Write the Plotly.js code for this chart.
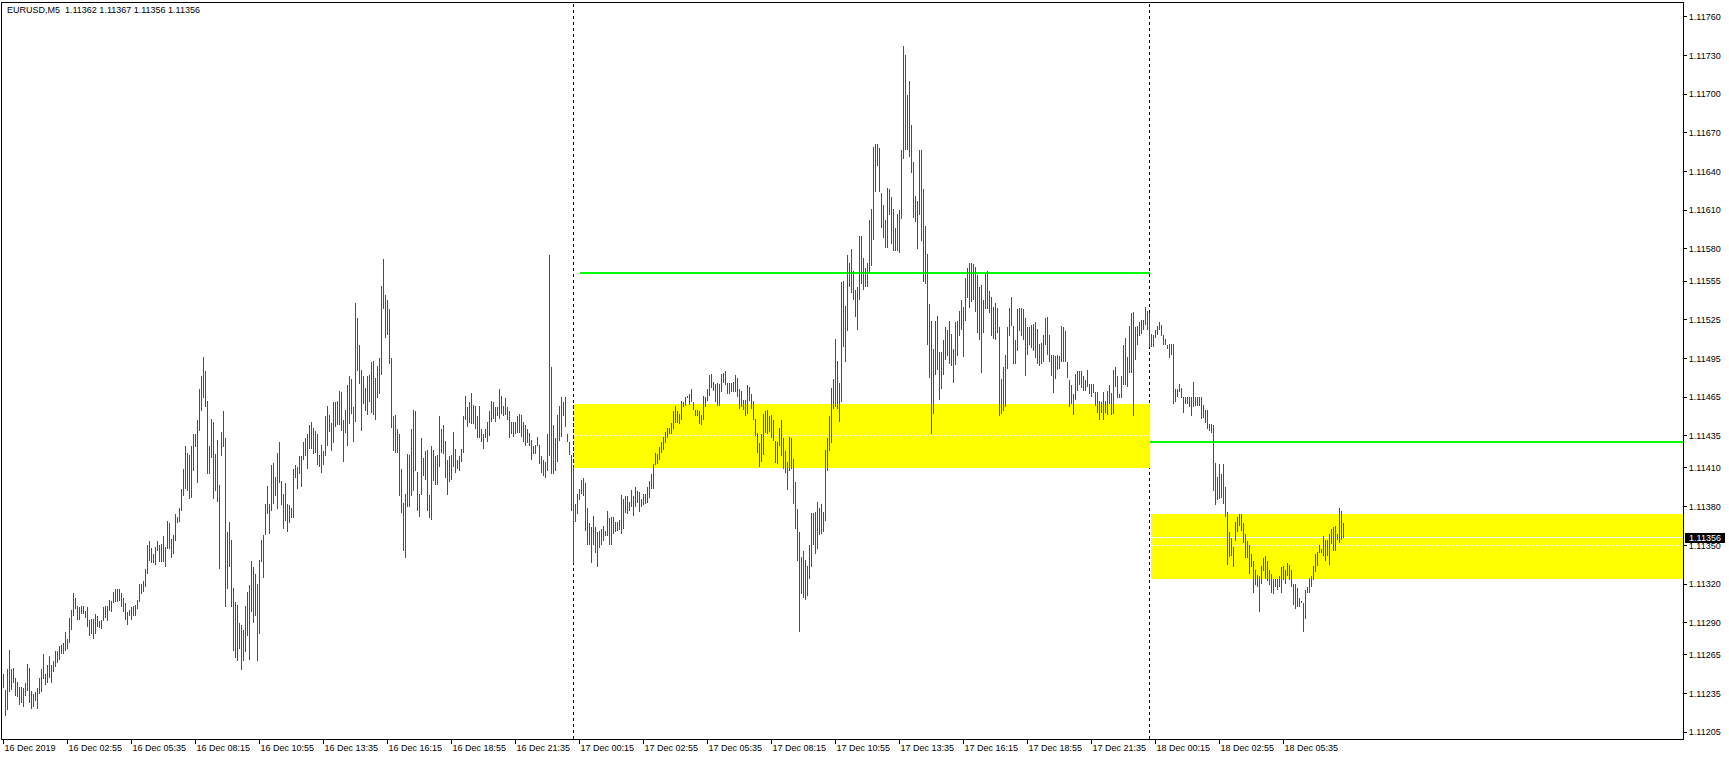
<!DOCTYPE html>
<html><head><meta charset="utf-8">
<script src="https://cdn.plot.ly/plotly-3.0.1.min.js"></script>
<style>html,body{margin:0;padding:0;background:#fff;overflow:hidden}#chart{width:1729px;height:760px}
#chart .scatterlayer path{shape-rendering:crispEdges}
#chart .shapelayer path{shape-rendering:crispEdges}
</style>
</head><body><div id="chart"></div>
<script>
const symbolTitle = "EURUSD,M5";
const lastOHLC = [1.11362, 1.11367, 1.11356, 1.11356];
const tickIndex = [0,32,64,96,128,160,192,224,256,288,320,352,384,416,448,480,512,544,576,608,640];
const tickText = ["16 Dec 2019","16 Dec 02:55","16 Dec 05:35","16 Dec 08:15","16 Dec 10:55","16 Dec 13:35","16 Dec 16:15","16 Dec 18:55","16 Dec 21:35",
 "17 Dec 00:15","17 Dec 02:55","17 Dec 05:35","17 Dec 08:15","17 Dec 10:55","17 Dec 13:35","17 Dec 16:15","17 Dec 18:55","17 Dec 21:35",
 "18 Dec 00:15","18 Dec 02:55","18 Dec 05:35"];
const priceTicks = [1.11760,1.11730,1.11700,1.11670,1.11640,1.11610,1.11580,1.11555,1.11525,1.11495,1.11465,1.11435,1.11410,1.11380,1.11350,1.11320,1.11290,1.11265,1.11235,1.11205];
const separatorIndex = [285, 573];
const zoneStart = [285, 573.75];
const zoneEnd = [573, 839.75];
const zoneTop = [1.11460, 1.11374];
const zoneBottom = [1.11410, 1.11324];
const zoneMid = [1.11435, 1.11350];
const greenLevel = [1.11561, 1.11430];
const greenStart = [288, 573];
const greenEnd = [573, 839.75];

const high = [
1.11250,1.11238,1.11254,1.11269,1.11254,1.11255,1.11247,1.11244,1.11240,1.11240,1.11239,1.11243,1.11258,1.11255,1.11237,1.11235,1.11236,1.11239,1.11247,1.11254,
1.11266,1.11250,1.11257,1.11264,1.11257,1.11260,1.11268,1.11268,1.11272,1.11273,1.11274,1.11283,1.11277,1.11294,1.11300,1.11313,1.11309,1.11303,1.11302,1.11303,
1.11303,1.11299,1.11302,1.11292,1.11293,1.11293,1.11297,1.11295,1.11291,1.11292,1.11302,1.11303,1.11303,1.11308,1.11307,1.11314,1.11316,1.11316,1.11316,1.11313,
1.11309,1.11305,1.11298,1.11300,1.11302,1.11303,1.11304,1.11308,1.11320,1.11320,1.11322,1.11332,1.11350,1.11353,1.11348,1.11343,1.11349,1.11353,1.11350,1.11351,
1.11357,1.11349,1.11369,1.11367,1.11355,1.11358,1.11374,1.11372,1.11379,1.11394,1.11409,1.11427,1.11422,1.11420,1.11427,1.11436,1.11436,1.11447,1.11471,1.11481,
1.11496,1.11485,1.11462,1.11427,1.11448,1.11446,1.11421,1.11432,1.11397,1.11438,1.11454,1.11433,1.11360,1.11368,1.11354,1.11317,1.11306,1.11304,1.11290,1.11288,
1.11284,1.11303,1.11314,1.11319,1.11338,1.11333,1.11328,1.11320,1.11339,1.11354,1.11358,1.11382,1.11396,1.11382,1.11412,1.11414,1.11403,1.11422,1.11430,1.11400,
1.11390,1.11398,1.11382,1.11381,1.11379,1.11409,1.11412,1.11411,1.11419,1.11419,1.11430,1.11433,1.11436,1.11443,1.11446,1.11441,1.11439,1.11436,1.11420,1.11428,
1.11423,1.11450,1.11458,1.11451,1.11445,1.11461,1.11461,1.11462,1.11470,
1.11469,1.11447,1.11455,1.11474,1.11481,1.11479,1.11457,1.11538,1.11526,1.11505,1.11486,1.11481,1.11472,1.11481,1.11482,1.11492,1.11493,1.11480,1.11489,1.11495,
1.11551,1.11572,1.11544,1.11540,1.11533,1.11495,1.11450,1.11451,1.11440,1.11436,1.11409,1.11383,1.11390,1.11421,1.11420,1.11440,1.11455,1.11454,1.11407,1.11390,
1.11433,1.11418,1.11423,1.11424,1.11389,1.11427,1.11424,1.11419,1.11420,1.11450,1.11440,1.11443,1.11431,1.11416,1.11419,1.11420,1.11438,1.11425,1.11416,1.11419,
1.11425,1.11450,1.11466,1.11457,1.11461,1.11468,1.11459,1.11458,1.11450,1.11458,1.11440,1.11436,1.11440,1.11446,1.11454,1.11462,1.11461,1.11457,1.11457,1.11471,
1.11466,1.11458,1.11464,1.11457,1.11454,1.11446,1.11446,1.11446,1.11450,1.11452,1.11451,1.11446,1.11443,1.11440,1.11437,1.11432,1.11427,1.11428,1.11434,1.11428,
1.11419,1.11416,1.11415,1.11436,1.11575,1.11488,1.11443,1.11433,1.11451,1.11458,1.11465,1.11461,1.11465,1.11436,1.11430,1.11420,1.11411,1.11382,1.11390,1.11394,
1.11401,1.11402,1.11398,1.11379,1.11367,1.11364,1.11373,1.11364,1.11360,1.11361,1.11363,1.11365,1.11361,1.11377,1.11371,1.11372,1.11372,1.11368,1.11368,1.11370,
1.11389,1.11386,1.11388,1.11388,1.11384,1.11393,1.11388,1.11395,1.11392,1.11391,1.11386,1.11390,1.11390,1.11395,1.11400,1.11405,1.11413,1.11422,1.11421,1.11426,
1.11430,1.11434,1.11438,1.11441,1.11441,1.11445,1.11454,1.11458,1.11454,1.11452,
1.11462,1.11461,1.11465,1.11466,1.11467,1.11471,1.11461,1.11455,1.11455,1.11454,1.11451,1.11466,1.11465,1.11471,1.11482,1.11483,1.11477,1.11475,1.11476,1.11475,
1.11483,1.11484,1.11485,1.11476,1.11476,1.11476,1.11477,1.11482,1.11480,1.11471,1.11470,1.11463,1.11463,1.11474,1.11473,1.11467,1.11462,1.11448,1.11437,1.11429,
1.11436,1.11452,1.11454,1.11455,1.11450,1.11451,1.11447,1.11431,1.11430,1.11441,1.11447,1.11433,1.11423,1.11415,1.11434,1.11433,1.11417,1.11399,1.11378,1.11360,
1.11341,1.11346,1.11339,1.11334,1.11350,1.11375,1.11375,1.11376,1.11384,1.11379,1.11382,1.11376,1.11424,1.11433,1.11450,1.11472,1.11479,1.11510,1.11493,1.11476,
1.11554,1.11555,1.11536,1.11575,1.11569,1.11580,1.11563,1.11548,1.11550,1.11590,1.11590,1.11573,1.11565,1.11569,1.11602,1.11611,1.11659,1.11661,1.11661,1.11658,
1.11623,1.11614,1.11602,1.11627,1.11626,1.11620,1.11611,1.11596,1.11607,1.11610,1.11657,1.11737,1.11730,1.11699,1.11710,1.11676,1.11647,1.11621,1.11617,1.11657,
1.11657,1.11626,1.11598,1.11576,1.11537,1.11524,1.11502,1.11524,1.11528,1.11500,1.11500,1.11509,1.11519,1.11517,1.11524,1.11514,1.11502,1.11523,1.11524,1.11532,
1.11540,1.11535,1.11557,1.11565,1.11569,1.11569,1.11568,1.11566,1.11560,1.11550,1.11552,1.11540,1.11561,1.11563,1.11547,1.11543,1.11535,1.11538,1.11534,1.11519,
1.11479,1.11488,1.11498,1.11519,1.11534,
1.11543,1.11520,1.11509,1.11533,1.11534,1.11534,1.11533,1.11526,1.11519,1.11519,1.11521,1.11522,1.11523,1.11518,1.11506,1.11507,1.11513,1.11526,1.11527,1.11513,
1.11498,1.11498,1.11497,1.11498,1.11497,1.11520,1.11519,1.11516,1.11492,1.11478,1.11474,1.11467,1.11483,1.11485,1.11485,1.11485,1.11481,1.11478,1.11486,1.11475,
1.11475,1.11475,1.11469,1.11469,1.11462,1.11461,1.11469,1.11462,1.11470,1.11474,1.11468,1.11486,1.11488,1.11481,1.11467,1.11481,1.11505,1.11511,1.11496,1.11520,
1.11530,1.11531,1.11519,1.11520,1.11523,1.11525,1.11525,1.11535,1.11532,1.11530,1.11514,1.11513,1.11517,1.11520,1.11523,1.11521,1.11513,1.11510,1.11505,1.11506,
1.11506,1.11506,1.11471,1.11471,1.11475,1.11472,1.11465,1.11465,1.11465,1.11465,1.11465,1.11477,1.11465,1.11465,1.11465,1.11465,1.11459,1.11455,1.11455,1.11444,
1.11444,1.11443,1.11414,1.11403,1.11413,1.11405,1.11413,1.11395,1.11376,1.11360,1.11356,1.11349,1.11368,1.11372,1.11374,1.11374,1.11367,1.11359,1.11353,1.11350,
1.11343,1.11338,1.11331,1.11327,1.11326,1.11334,1.11340,1.11342,1.11338,1.11331,1.11328,1.11324,1.11324,1.11324,1.11326,1.11333,1.11334,1.11331,1.11336,1.11335,
1.11331,1.11320,1.11320,1.11317,1.11309,1.11307,1.11305,1.11315,1.11318,1.11325,1.11326,1.11334,1.11343,1.11345,1.11350,1.11347,1.11357,1.11354,1.11354,1.11359,
1.11363,1.11364,1.11365,1.11359,1.11379,1.11377,1.11367
];

const low = [
1.11239,1.11218,1.11222,1.11236,1.11238,1.11243,1.11233,1.11232,1.11226,1.11228,1.11225,1.11233,1.11237,1.11228,1.11223,1.11225,1.11229,1.11223,1.11235,1.11236,
1.11246,1.11242,1.11243,1.11247,1.11243,1.11252,1.11256,1.11259,1.11261,1.11266,1.11266,1.11268,1.11270,1.11274,1.11284,1.11295,1.11301,1.11292,1.11292,1.11297,
1.11297,1.11294,1.11287,1.11280,1.11281,1.11277,1.11281,1.11287,1.11286,1.11285,1.11291,1.11294,1.11291,1.11299,1.11298,1.11305,1.11306,1.11306,1.11307,1.11302,
1.11298,1.11292,1.11288,1.11295,1.11292,1.11295,1.11295,1.11301,1.11306,1.11312,1.11314,1.11318,1.11328,1.11338,1.11336,1.11336,1.11335,1.11346,1.11337,1.11337,
1.11337,1.11333,1.11347,1.11347,1.11340,1.11343,1.11353,1.11367,1.11368,1.11377,1.11388,1.11394,1.11392,1.11386,1.11387,1.11408,1.11426,1.11398,1.11439,1.11454,
1.11464,1.11457,1.11405,1.11405,1.11418,1.11386,1.11392,1.11384,1.11332,1.11419,1.11426,1.11302,1.11316,1.11333,1.11302,1.11268,1.11263,1.11260,1.11270,1.11253,
1.11260,1.11267,1.11280,1.11261,1.11298,1.11290,1.11295,1.11260,1.11281,1.11337,1.11325,1.11358,1.11374,1.11359,1.11377,1.11382,1.11388,1.11378,1.11398,1.11381,
1.11363,1.11369,1.11360,1.11367,1.11371,1.11371,1.11402,1.11394,1.11405,1.11395,1.11416,1.11419,1.11409,1.11425,1.11425,1.11421,1.11422,1.11412,1.11411,1.11406,
1.11412,1.11419,1.11427,1.11438,1.11423,1.11429,1.11442,1.11443,1.11443,
1.11439,1.11415,1.11437,1.11427,1.11444,1.11452,1.11430,1.11446,1.11485,1.11475,1.11439,1.11460,1.11454,1.11451,1.11461,1.11453,1.11451,1.11447,1.11464,1.11467,
1.11482,1.11533,1.11511,1.11513,1.11491,1.11441,1.11423,1.11422,1.11422,1.11388,1.11375,1.11346,1.11340,1.11380,1.11380,1.11388,1.11392,1.11408,1.11377,1.11372,
1.11389,1.11404,1.11401,1.11377,1.11371,1.11370,1.11400,1.11397,1.11397,1.11411,1.11422,1.11421,1.11402,1.11389,1.11399,1.11401,1.11411,1.11406,1.11409,1.11408,
1.11415,1.11422,1.11447,1.11442,1.11445,1.11444,1.11444,1.11440,1.11433,1.11433,1.11430,1.11425,1.11433,1.11430,1.11435,1.11446,1.11448,1.11446,1.11450,1.11448,
1.11452,1.11450,1.11451,1.11447,1.11433,1.11436,1.11434,1.11436,1.11437,1.11437,1.11434,1.11430,1.11427,1.11429,1.11427,1.11416,1.11421,1.11421,1.11427,1.11413,
1.11406,1.11404,1.11402,1.11408,1.11419,1.11405,1.11405,1.11408,1.11415,1.11431,1.11434,1.11450,1.11442,1.11430,1.11420,1.11377,1.11336,1.11368,1.11374,1.11385,
1.11390,1.11388,1.11361,1.11350,1.11350,1.11336,1.11350,1.11344,1.11333,1.11348,1.11350,1.11353,1.11357,1.11357,1.11350,1.11350,1.11359,1.11360,1.11361,1.11362,
1.11359,1.11363,1.11375,1.11374,1.11377,1.11380,1.11373,1.11380,1.11383,1.11376,1.11380,1.11381,1.11382,1.11383,1.11387,1.11394,1.11394,1.11412,1.11413,1.11416,
1.11422,1.11424,1.11429,1.11433,1.11436,1.11436,1.11440,1.11445,1.11445,1.11444,
1.11447,1.11457,1.11458,1.11464,1.11459,1.11461,1.11455,1.11450,1.11450,1.11444,1.11443,1.11447,1.11457,1.11462,1.11466,1.11472,1.11470,1.11461,1.11458,1.11458,
1.11469,1.11476,1.11474,1.11467,1.11467,1.11469,1.11469,1.11469,1.11465,1.11456,1.11457,1.11455,1.11450,1.11452,1.11462,1.11456,1.11447,1.11435,1.11422,1.11411,
1.11415,1.11420,1.11437,1.11436,1.11438,1.11433,1.11431,1.11414,1.11413,1.11427,1.11419,1.11409,1.11406,1.11393,1.11408,1.11409,1.11382,1.11363,1.11338,1.11283,
1.11312,1.11309,1.11308,1.11311,1.11324,1.11333,1.11350,1.11343,1.11347,1.11358,1.11359,1.11360,1.11369,1.11408,1.11423,1.11429,1.11456,1.11457,1.11456,1.11446,
1.11461,1.11504,1.11492,1.11516,1.11550,1.11546,1.11540,1.11527,1.11517,1.11540,1.11553,1.11548,1.11550,1.11550,1.11561,1.11567,1.11587,1.11624,1.11644,1.11624,
1.11596,1.11588,1.11581,1.11581,1.11606,1.11584,1.11578,1.11578,1.11578,1.11577,1.11603,1.11650,1.11657,1.11657,1.11651,1.11639,1.11604,1.11601,1.11580,1.11606,
1.11586,1.11554,1.11553,1.11505,1.11480,1.11436,1.11452,1.11482,1.11486,1.11463,1.11471,1.11482,1.11494,1.11497,1.11491,1.11489,1.11476,1.11490,1.11497,1.11512,
1.11517,1.11496,1.11524,1.11542,1.11534,1.11539,1.11540,1.11531,1.11515,1.11509,1.11484,1.11515,1.11533,1.11533,1.11530,1.11512,1.11510,1.11509,1.11515,1.11450,
1.11452,1.11454,1.11457,1.11487,1.11512,
1.11520,1.11491,1.11491,1.11501,1.11516,1.11512,1.11509,1.11481,1.11498,1.11505,1.11503,1.11501,1.11495,1.11491,1.11489,1.11491,1.11492,1.11505,1.11498,1.11492,
1.11481,1.11468,1.11479,1.11486,1.11487,1.11492,1.11492,1.11492,1.11480,1.11457,1.11460,1.11451,1.11463,1.11470,1.11474,1.11472,1.11470,1.11470,1.11473,1.11467,
1.11465,1.11468,1.11458,1.11453,1.11447,1.11453,1.11447,1.11453,1.11451,1.11460,1.11451,1.11452,1.11473,1.11464,1.11464,1.11464,1.11474,1.11474,1.11473,1.11484,
1.11484,1.11450,1.11494,1.11505,1.11512,1.11514,1.11517,1.11521,1.11517,1.11504,1.11504,1.11504,1.11511,1.11513,1.11517,1.11512,1.11505,1.11505,1.11502,1.11495,
1.11498,1.11460,1.11461,1.11465,1.11469,1.11464,1.11453,1.11460,1.11460,1.11457,1.11450,1.11457,1.11458,1.11458,1.11458,1.11448,1.11449,1.11445,1.11440,1.11439,
1.11437,1.11392,1.11381,1.11385,1.11386,1.11387,1.11382,1.11372,1.11335,1.11341,1.11342,1.11333,1.11353,1.11360,1.11365,1.11361,1.11352,1.11340,1.11340,1.11328,
1.11333,1.11313,1.11319,1.11318,1.11298,1.11320,1.11330,1.11324,1.11322,1.11319,1.11313,1.11312,1.11318,1.11315,1.11318,1.11313,1.11323,1.11320,1.11326,1.11323,
1.11318,1.11304,1.11301,1.11302,1.11302,1.11305,1.11283,1.11293,1.11313,1.11313,1.11318,1.11323,1.11329,1.11334,1.11344,1.11344,1.11342,1.11338,1.11342,1.11335,
1.11351,1.11346,1.11346,1.11354,1.11352,1.11354,1.11356
];

// build high-low bar segments
const segX = [], segY = [];
for (let i = 0; i < high.length; i++) {
  segX.push(i, i, null);
  segY.push(low[i], high[i], null);
}

const FONT = '"Liberation Sans", Arial, sans-serif';
const shapes = [];
for (let k = 0; k < zoneTop.length; k++) {
  shapes.push({type:'rect', xref:'x', yref:'y', x0:zoneStart[k], x1:zoneEnd[k], y0:zoneBottom[k], y1:zoneTop[k],
    fillcolor:'#ffff00', line:{width:0}, layer:'below'});
  shapes.push({type:'line', xref:'x', yref:'y', x0:zoneStart[k], x1:zoneEnd[k], y0:zoneMid[k], y1:zoneMid[k],
    line:{color:'#ffffff', width:1, dash:'3px,2px'}, layer:'below'});
}
// bid line
shapes.push({type:'line', xref:'x', yref:'y', x0:zoneStart[1], x1:zoneEnd[1], y0:lastOHLC[3], y1:lastOHLC[3],
  line:{color:'#ffffff', width:1}, layer:'below'});
for (let k = 0; k < greenLevel.length; k++) {
  shapes.push({type:'line', xref:'x', yref:'y', x0:greenStart[k], x1:greenEnd[k], y0:greenLevel[k], y1:greenLevel[k],
    line:{color:'#00ff00', width:2}, layer:'below'});
}
separatorIndex.forEach(s => {
  shapes.push({type:'line', xref:'x', yref:'paper', x0:s, x1:s, y0:0, y1:1,
    line:{color:'#000000', width:1, dash:'3px,3px'}, layer:'below'});
});
shapes.push({type:'line', xref:'x', yref:'y', x0:separatorIndex[0], x1:separatorIndex[0], y0:zoneBottom[0], y1:zoneTop[0],
  line:{color:'#0000ff', width:1, dash:'3px,3px'}, layer:'below'});

const data = [{
  type:'scatter', mode:'lines', x:segX, y:segY, connectgaps:false,
  line:{color:'#ff0000', width:1}, hoverinfo:'skip'
}];

const layout = {
  width:1729, height:760,
  margin:{l:2, r:46, t:3, b:21, pad:0},
  paper_bgcolor:'#ffffff', plot_bgcolor:'#ffffff',
  showlegend:false,
  font:{family:FONT, size:9, color:'#000000'},
  xaxis:{
    range:[-0.75, 839.75], tickmode:'array', tickvals:tickIndex, ticktext:tickText,
    ticks:'outside', ticklen:4, tickwidth:1, tickcolor:'#000000',
    ticklabelposition:'outside right',
    showgrid:false, zeroline:false, showline:true, linecolor:'#000000', linewidth:1, mirror:true,
    tickfont:{family:FONT, size:9, color:'#000000'}, fixedrange:true
  },
  yaxis:{
    range:[1.11199808, 1.11770625], side:'right', tickmode:'array', tickvals:priceTicks,
    ticktext:priceTicks.map(v => v.toFixed(5)),
    ticks:'outside', ticklen:3, tickwidth:1, tickcolor:'#000000',
    showgrid:false, zeroline:false, showline:true, linecolor:'#000000', linewidth:1, mirror:true,
    tickfont:{family:FONT, size:9, color:'#000000'}, fixedrange:true
  },
  shapes:shapes,
  annotations:[
    {xref:'paper', yref:'paper', x:0, y:1, xanchor:'left', yanchor:'top', xshift:3, yshift:0,
     text: symbolTitle + '\u00a0 ' + lastOHLC.map(v => v.toFixed(5)).join(' '),
     showarrow:false, font:{family:FONT, size:9, color:'#000000'}},
    {xref:'paper', yref:'y', x:1, y:lastOHLC[3], xanchor:'left', yanchor:'middle', xshift:2,
     text: lastOHLC[3].toFixed(5), showarrow:false, bgcolor:'#000000', borderwidth:0, borderpad:1,
     width:38, height:8, font:{family:FONT, size:9, color:'#ffffff'}}
  ]
};

Plotly.newPlot('chart', data, layout, {staticPlot:true, displayModeBar:false});
</script>
</body></html>
